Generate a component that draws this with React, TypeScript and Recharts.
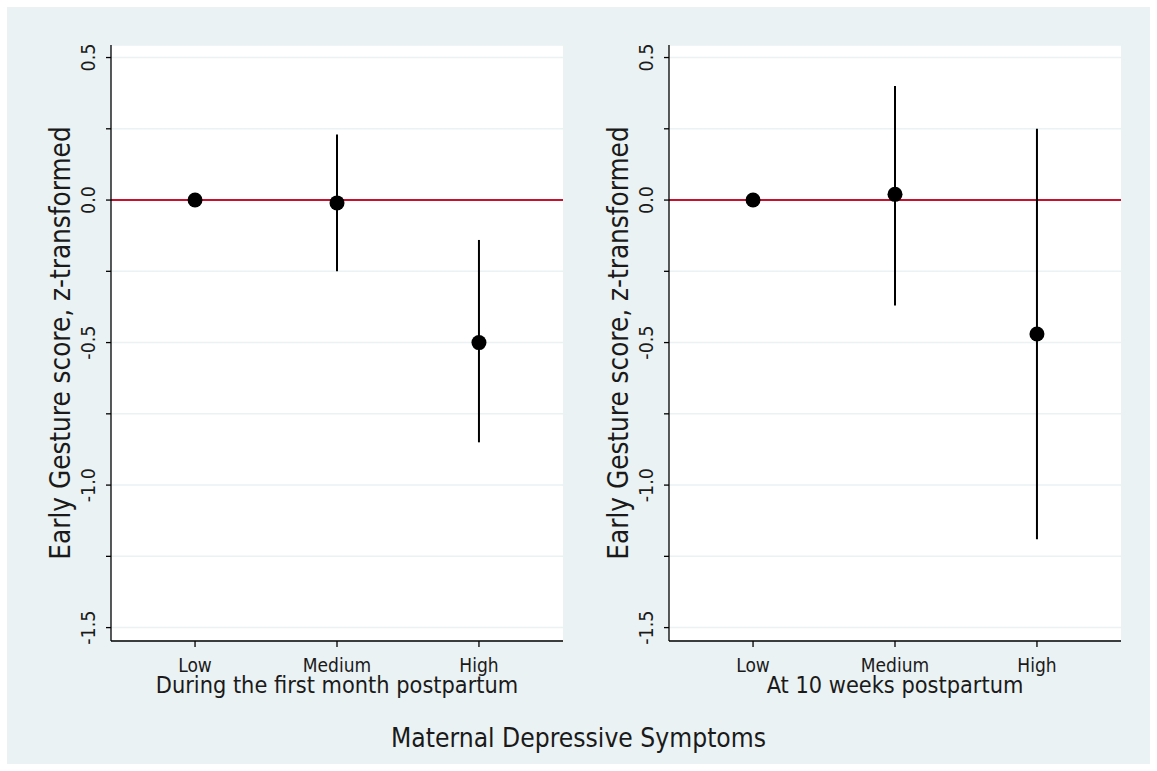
import { ComposedChart, Scatter, XAxis, YAxis, CartesianGrid, ReferenceLine, ErrorBar } from 'recharts';

// Maternal depressive symptom groups
const categories = ['Low', 'Medium', 'High'];
const categoryPositions = [1, 2, 3];

// Early Gesture score (z), estimates with 95% CI
const firstMonthEstimate = [0, -0.01, -0.5];
const firstMonthLower = [0, -0.25, -0.85];
const firstMonthUpper = [0, 0.23, -0.14];

const tenWeeksEstimate = [0, 0.02, -0.47];
const tenWeeksLower = [0, -0.37, -1.19];
const tenWeeksUpper = [0, 0.4, 0.25];

const yTicks = [-1.5, -1.25, -1, -0.75, -0.5, -0.25, 0, 0.25, 0.5];

const FONT = '"DejaVu Sans Condensed", "DejaVu Sans", Verdana, sans-serif';
const TEXT = '#1a1a1a';
const BG = '#EAF2F3';

const buildRows = (est: number[], lo: number[], hi: number[]) =>
  categoryPositions.map((x, i) => ({
    x,
    y: est[i],
    ci: [est[i] - lo[i], hi[i] - est[i]],
  }));

const YTick = (props: any) => {
  const { x, y, payload } = props;
  const v = payload.value;
  // labels only on the 0.5 steps, the 0.25 ones are minor ticks
  if (Math.abs(v * 2 - Math.round(v * 2)) > 1e-6) return null;
  return (
    <text
      x={x}
      y={y}
      transform={`rotate(-90 ${x} ${y})`}
      textAnchor="middle"
      fill={TEXT}
      fontSize={19.5}
      fontFamily={FONT}
    >
      {v.toFixed(1)}
    </text>
  );
};

const Dot = (props: any) => <circle cx={props.cx} cy={props.cy} r={7.5} fill="#000" />;

interface PanelProps {
  title: string;
  rows: { x: number; y: number; ci: number[] }[];
  width: number;
  axisWidth: number;
  rightMargin: number;
}

const Panel = ({ title, rows, width, axisWidth, rightMargin }: PanelProps) => (
  <ComposedChart
    width={width}
    height={771}
    data={rows}
    margin={{ top: 45, right: rightMargin, bottom: 0, left: 0 }}
    style={{ fontFamily: FONT }}
  >
    <CartesianGrid vertical={false} stroke={BG} strokeWidth={1.5} fill="#fff" />
    <XAxis
      type="number"
      dataKey="x"
      domain={[0.408, 3.592]}
      ticks={categoryPositions}
      tickFormatter={(v: number) => categories[v - 1]}
      height={130}
      tickSize={6}
      tickMargin={12}
      interval={0}
      stroke="#000"
      strokeWidth={1.3}
      tick={{ fill: TEXT, fontSize: 19, fontFamily: FONT }}
      label={{
        content: (p: any) => (
          <text
            x={p.viewBox.x + p.viewBox.width / 2}
            y={p.viewBox.y + 52}
            textAnchor="middle"
            fill={TEXT}
            fontSize={23.3}
            fontFamily={FONT}
          >
            {title}
          </text>
        ),
      }}
    />
    <YAxis
      type="number"
      domain={[-1.547, 0.544]}
      ticks={yTicks}
      width={axisWidth}
      tickSize={5}
      tickMargin={11}
      interval={0}
      stroke="#000"
      strokeWidth={1.3}
      tick={<YTick />}
      label={{
        content: (p: any) => {
          const cx = p.viewBox.x + p.viewBox.width - 41;
          const cy = p.viewBox.y + p.viewBox.height / 2;
          return (
            <text
              x={cx}
              y={cy}
              transform={`rotate(-90 ${cx} ${cy})`}
              textAnchor="middle"
              fill={TEXT}
              fontSize={27.6}
              fontFamily={FONT}
            >
              Early Gesture score, z-transformed
            </text>
          );
        },
      }}
    />
    <ReferenceLine y={0} stroke="#C8102E" strokeWidth={2} />
    <Scatter dataKey="y" shape={<Dot />} isAnimationActive={false}>
      <ErrorBar dataKey="ci" direction="y" width={0} stroke="#000" strokeWidth={2} isAnimationActive={false} />
    </Scatter>
  </ComposedChart>
);

export default function App() {
  return (
    <div style={{ position: 'absolute', left: 0, top: 0, width: 1157, height: 771, background: '#fff', fontFamily: FONT }}>
      <div style={{ position: 'absolute', left: 7, top: 7, width: 1143, height: 757, background: BG }} />
      <div style={{ position: 'absolute', left: 0, top: 0 }}>
        <Panel
          title="During the first month postpartum"
          rows={buildRows(firstMonthEstimate, firstMonthLower, firstMonthUpper)}
          width={578}
          axisWidth={111}
          rightMargin={15}
        />
      </div>
      <div style={{ position: 'absolute', left: 578, top: 0 }}>
        <Panel
          title="At 10 weeks postpartum"
          rows={buildRows(tenWeeksEstimate, tenWeeksLower, tenWeeksUpper)}
          width={579}
          axisWidth={91}
          rightMargin={36}
        />
      </div>
      <div
        style={{
          position: 'absolute',
          left: 0,
          width: 1157,
          top: 722,
          textAlign: 'center',
          fontSize: 26.2,
          lineHeight: '32px',
          color: TEXT,
        }}
      >
        Maternal Depressive Symptoms
      </div>
    </div>
  );
}
